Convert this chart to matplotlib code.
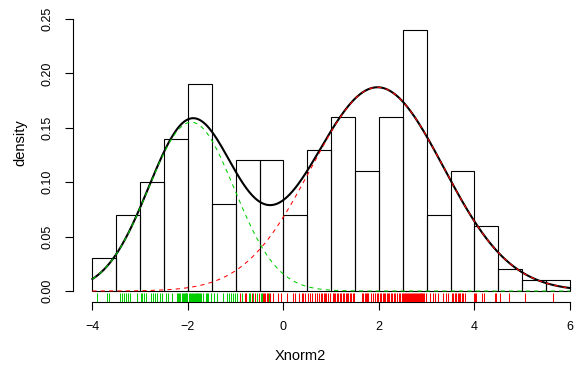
import numpy as np
import matplotlib
matplotlib.use('Agg')
import matplotlib.pyplot as plt

plt.rcParams['font.family'] = ['Liberation Sans', 'DejaVu Sans']

# Histograma (densidad) de Xnorm2, clases de ancho 0.5
bin_left = [-4.0, -3.5, -3.0, -2.5, -2.0, -1.5, -1.0, -0.5, 0.0, 0.5,
            1.0, 1.5, 2.0, 2.5, 3.0, 3.5, 4.0, 4.5, 5.0, 5.5]
densidad = [0.03, 0.07, 0.10, 0.14, 0.19, 0.08, 0.12, 0.12, 0.07, 0.13,
            0.16, 0.11, 0.16, 0.24, 0.07, 0.11, 0.06, 0.02, 0.01, 0.01]
ancho = 0.5

# Parametros de la mezcla de dos normales
lambdas = [0.35, 0.65]
medias = [-1.93, 1.97]
sigmas = [0.90, 1.385]

# Rug: observaciones asignadas a cada componente
rug_verde = [-3.90, -3.70, -3.66,
             -3.42, -3.38, -3.34, -3.30, -3.26, -3.22, -3.06,
             -2.99, -2.96, -2.92, -2.88, -2.78, -2.74, -2.68, -2.65, -2.58, -2.54,
             -2.46, -2.42, -2.34, -2.23, -2.20, -2.18, -2.16, -2.13, -2.11, -2.09,
             -2.07, -2.05, -2.03, -2.01,
             -1.98, -1.96, -1.94, -1.92, -1.90, -1.88, -1.86, -1.84, -1.82, -1.80,
             -1.78, -1.76, -1.74, -1.72, -1.68, -1.62, -1.60, -1.57, -1.52,
             -1.46, -1.40, -1.26, -1.19, -1.15, -1.10, -1.05, -1.02,
             -0.98, -0.87, -0.73, -0.69, -0.63, -0.55,
             -0.46, -0.44, -0.30]
rug_rojo = [-0.91, -0.80, -0.78, -0.66, -0.60, -0.52,
            -0.42, -0.40, -0.38, -0.35, -0.32, -0.28, -0.21, -0.12, -0.06,
            0.08, 0.21, 0.25, 0.33, 0.38, 0.42, 0.46,
            0.52, 0.55, 0.60, 0.66, 0.70, 0.74, 0.78, 0.80, 0.84, 0.87, 0.90, 0.94, 0.98,
            1.04, 1.06, 1.09, 1.12, 1.15, 1.18, 1.21, 1.24, 1.27, 1.30, 1.33, 1.36,
            1.39, 1.42, 1.45, 1.48,
            1.64, 1.66, 1.70, 1.72, 1.75, 1.78, 1.83, 1.87, 1.91, 1.95, 1.98,
            2.02, 2.05, 2.08, 2.10, 2.13, 2.16, 2.19, 2.22, 2.25, 2.28, 2.31, 2.34,
            2.37, 2.41, 2.45, 2.48,
            2.51, 2.53, 2.55, 2.57, 2.59, 2.61, 2.63, 2.65, 2.67, 2.69, 2.71, 2.73,
            2.75, 2.77, 2.79, 2.81, 2.83, 2.85, 2.87, 2.89, 2.91, 2.93, 2.95, 2.98,
            3.06, 3.13, 3.18, 3.24, 3.34, 3.40, 3.45,
            3.52, 3.56, 3.59, 3.62, 3.65, 3.67, 3.70, 3.73, 3.76, 3.80, 3.98,
            4.02, 4.04, 4.15, 4.20, 4.43, 4.46,
            4.53, 4.72, 5.06, 5.65]

x_ticks = [-4, -2, 0, 2, 4, 6]
y_ticks = [0.00, 0.05, 0.10, 0.15, 0.20, 0.25]

verde = '#00CD00'
rojo = '#FF0000'


def dnorm(x, m, s):
    return np.exp(-0.5 * ((x - m) / s) ** 2) / (s * np.sqrt(2 * np.pi))


fig = plt.figure(figsize=(5.79, 3.68), dpi=100, facecolor='white')
# zona de dibujo estilo R (se sale un poco por la derecha como en el original)
ax = fig.add_axes([73.3 / 579, 66.1 / 368, 515.8 / 579, 293.8 / 368])
ax.set_xlim(-4.4, 6.4)
ax.set_ylim(-0.01, 0.26)

# barras del histograma
ax.bar(bin_left, densidad, width=ancho, align='edge', fill=False,
       edgecolor='black', linewidth=0.8, zorder=2)

# densidad de la mezcla y componentes
xs = np.linspace(-4, 6, 500)
comp1 = lambdas[0] * dnorm(xs, medias[0], sigmas[0])
comp2 = lambdas[1] * dnorm(xs, medias[1], sigmas[1])
ax.plot(xs, comp1 + comp2, color='black', linewidth=1.5, zorder=3)
ax.plot(xs, comp1, color=verde, linewidth=0.75, dashes=(4, 4), zorder=4)
ax.plot(xs, comp2, color=rojo, linewidth=0.75, dashes=(4, 4), zorder=4)

# rug
trans = ax.get_xaxis_transform()
ax.vlines(rug_verde, 0, 0.03, transform=trans, color=verde, linewidth=0.75, zorder=3)
ax.vlines(rug_rojo, 0, 0.03, transform=trans, color=rojo, linewidth=0.75, zorder=3)

# ejes estilo R
for lado in ['top', 'right']:
    ax.spines[lado].set_visible(False)
ax.spines['left'].set_bounds(0, 0.25)
ax.spines['bottom'].set_bounds(-4, 6)
ax.spines['left'].set_linewidth(0.8)
ax.spines['bottom'].set_linewidth(0.8)

ax.set_xticks(x_ticks)
ax.set_xticklabels([('\u2212' if v < 0 else '') + str(abs(v)) for v in x_ticks])
ax.set_yticks(y_ticks)
ax.set_yticklabels([f'{v:.2f}' for v in y_ticks], rotation=90, va='center')
ax.tick_params(axis='both', direction='out', length=5.5, width=0.8, labelsize=9)
ax.tick_params(axis='x', pad=8)
ax.tick_params(axis='y', pad=9)

fig.text(300 / 579, 1 - 356 / 368, 'Xnorm2', ha='center', va='center', fontsize=10.5)
fig.text(20 / 579, 1 - 143 / 368, 'density', ha='center', va='center',
         rotation=90, fontsize=10.5)

fig.savefig('out.png', dpi=100, facecolor='white')
